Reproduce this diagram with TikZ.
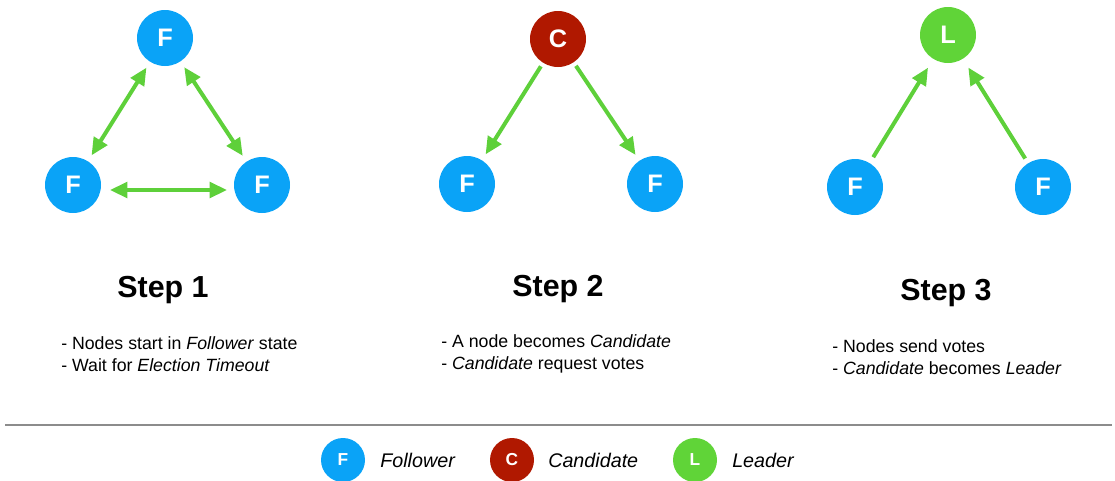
\documentclass[tikz,border=0pt]{standalone}
\usepackage{fontspec}
\setmainfont{Liberation Sans}
\usetikzlibrary{arrows.meta}
\definecolor{fblue}{RGB}{10,163,247}
\definecolor{cred}{RGB}{176,24,0}
\definecolor{lgreen}{RGB}{96,212,56}
\definecolor{agreen}{RGB}{94,208,58}
\definecolor{rulegray}{RGB}{140,140,140}
\tikzset{
  state/.style={circle, fill=#1, text=white, inner sep=0pt, minimum size=42pt,
    font=\fontsize{19}{19}\selectfont\bfseries},
  keystate/.style={circle, fill=#1, text=white, inner sep=0pt, minimum size=33pt,
    font=\fontsize{13}{13}\selectfont\bfseries},
  msg/.style={agreen, line width=3pt, -{Triangle[length=13pt,width=11.5pt]}},
  msgboth/.style={agreen, line width=3pt, {Triangle[length=13pt,width=11.5pt]}-{Triangle[length=13pt,width=11.5pt]}},
  steptitle/.style={font=\fontsize{22.8}{22.8}\selectfont\bfseries},
  notes/.style={align=left, anchor=west, inner sep=0pt, font=\fontsize{13.3}{16.5}\selectfont},
  keylabel/.style={anchor=west, inner sep=0pt, font=\fontsize{14.8}{14.8}\selectfont\itshape}
}
\begin{document}
\begin{tikzpicture}[x=0.75pt, y=-0.75pt]
\useasboundingbox (0,0) rectangle (1115,480);

% Step 1: every node is a follower
\node[state=fblue] (s1t) at (165,38) {F};
\node[state=fblue] (s1l) at (73,185) {F};
\node[state=fblue] (s1r) at (262,185) {F};
\draw[msgboth, shorten <=5pt, shorten >=5pt] (s1t) -- (s1l);
\draw[msgboth, shorten <=5pt, shorten >=5pt] (s1t) -- (s1r);
\draw[msgboth, shorten <=6.5pt, shorten >=5pt] ([yshift=-3.75pt]s1l.east) -- ([yshift=-3.75pt]s1r.west);
\node[steptitle] (t1) at (163,290) {Step 1};
\node[notes] (n1) at (61,354) {- Nodes start in \textit{Follower} state\\- Wait for \textit{Election Timeout}};

% Step 2: a candidate asks for votes
\node[state=cred] (s2t) at (558,39) {C};
\node[state=fblue] (s2l) at (467,184) {F};
\node[state=fblue] (s2r) at (655,184) {F};
\draw[msg, shorten <=3pt, shorten >=5pt] (s2t) -- (s2l);
\draw[msg, shorten <=3pt, shorten >=5pt] (s2t) -- (s2r);
\node[steptitle] (t2) at (558,289) {Step 2};
\node[notes] (n2) at (441,354) {- A node becomes \textit{Candidate}\\- \textit{Candidate} request votes};

% Step 3: votes make the candidate the leader
\node[state=lgreen] (s3t) at (948,35) {L};
\node[state=fblue] (s3l) at (855,187) {F};
\node[state=fblue] (s3r) at (1043,187) {F};
\draw[msg, shorten <=5pt, shorten >=7.5pt] (s3l) -- (s3t);
\draw[msg, shorten <=4pt, shorten >=7.5pt] (s3r) -- (s3t);
\node[steptitle] (t3) at (946,293) {Step 3};
\node[notes] (n3) at (832,357) {- Nodes send votes\\- \textit{Candidate} becomes \textit{Leader}};

% separator and key
\coordinate (ruleL) at (5,425);
\coordinate (ruleR) at (1112,425);
\draw[rulegray, line width=1.4pt] (ruleL) -- (ruleR);

\node[keystate=fblue] (kf) at (343,460) {F};
\node[keylabel] (kfl) at (380,460) {Follower};
\node[keystate=cred] (kc) at (512,460) {C};
\node[keylabel] (kcl) at (548,460) {Candidate};
\node[keystate=lgreen] (kl) at (695,460) {L};
\node[keylabel] (kll) at (732,460) {Leader};
\end{tikzpicture}
\end{document}
